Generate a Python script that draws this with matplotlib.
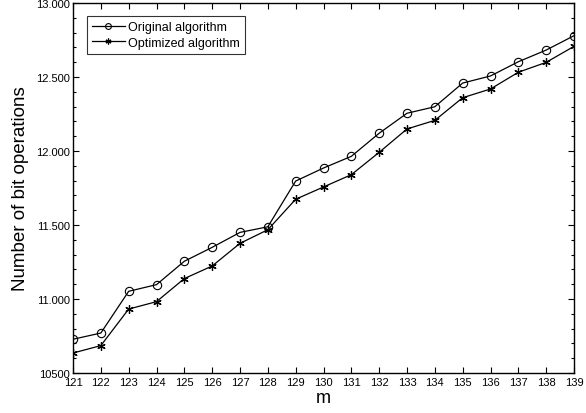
import matplotlib
matplotlib.use("Agg")
import matplotlib.pyplot as plt
from matplotlib.ticker import MultipleLocator, FixedLocator

plt.rcParams['font.family'] = ['Liberation Sans', 'DejaVu Sans']

m = [121, 122, 123, 124, 125, 126, 127, 128, 129, 130,
     131, 132, 133, 134, 135, 136, 137, 138, 139]
original = [10728, 10770, 11052, 11097, 11255, 11349, 11450, 11488, 11797, 11885,
            11964, 12120, 12255, 12299, 12459, 12507, 12603, 12682, 12779]
optimized = [10635, 10685, 10932, 10982, 11138, 11223, 11376, 11468, 11674, 11757,
             11840, 11991, 12149, 12207, 12360, 12419, 12532, 12599, 12707]

ytick_vals = [10500, 11000, 11500, 12000, 12500, 13000]
ytick_labels = ["10500", "11.000", "11.500", "12.000", "12.500", "13.000"]

fig = plt.figure(figsize=(5.86, 4.14), dpi=100)
ax = fig.add_axes([73/586, 40/414, 501/586, 370/414])

ax.plot(m, original, color='black', lw=0.9, marker='o', markersize=6,
        markerfacecolor='none', markeredgecolor='black', markeredgewidth=0.8,
        label='Original algorithm')
ax.plot(m, optimized, color='black', lw=0.9, marker=(6, 2, 0), markersize=6,
        markeredgewidth=0.9, label='Optimized algorithm')

ax.set_xlim(121, 139)
ax.set_ylim(10500, 13000)
ax.set_xticks(m)
ax.set_xticklabels([str(v) for v in m])
ax.yaxis.set_major_locator(FixedLocator(ytick_vals))
ax.set_yticklabels(ytick_labels)
ax.yaxis.set_minor_locator(MultipleLocator(100))

ax.tick_params(which='both', direction='in', top=True, right=True,
               labelsize=8, width=0.8, pad=2)
ax.tick_params(which='major', length=4)
ax.tick_params(which='minor', length=2)
ax.tick_params(axis='x', pad=3)
for s in ax.spines.values():
    s.set_linewidth(1.0)

ax.set_xlabel('m', fontsize=13, labelpad=1)
ax.set_ylabel('Number of bit operations', fontsize=13.5, labelpad=5)

leg = ax.legend(loc='upper left', bbox_to_anchor=(14/501, 1 - 13/370), fontsize=9,
                frameon=True, fancybox=False, edgecolor='black',
                handlelength=2.6, borderpad=0.4, labelspacing=0.3,
                handletextpad=0.3, markerscale=0.7, borderaxespad=0)
leg.get_frame().set_linewidth(0.8)

fig.savefig('out.png', dpi=100)
